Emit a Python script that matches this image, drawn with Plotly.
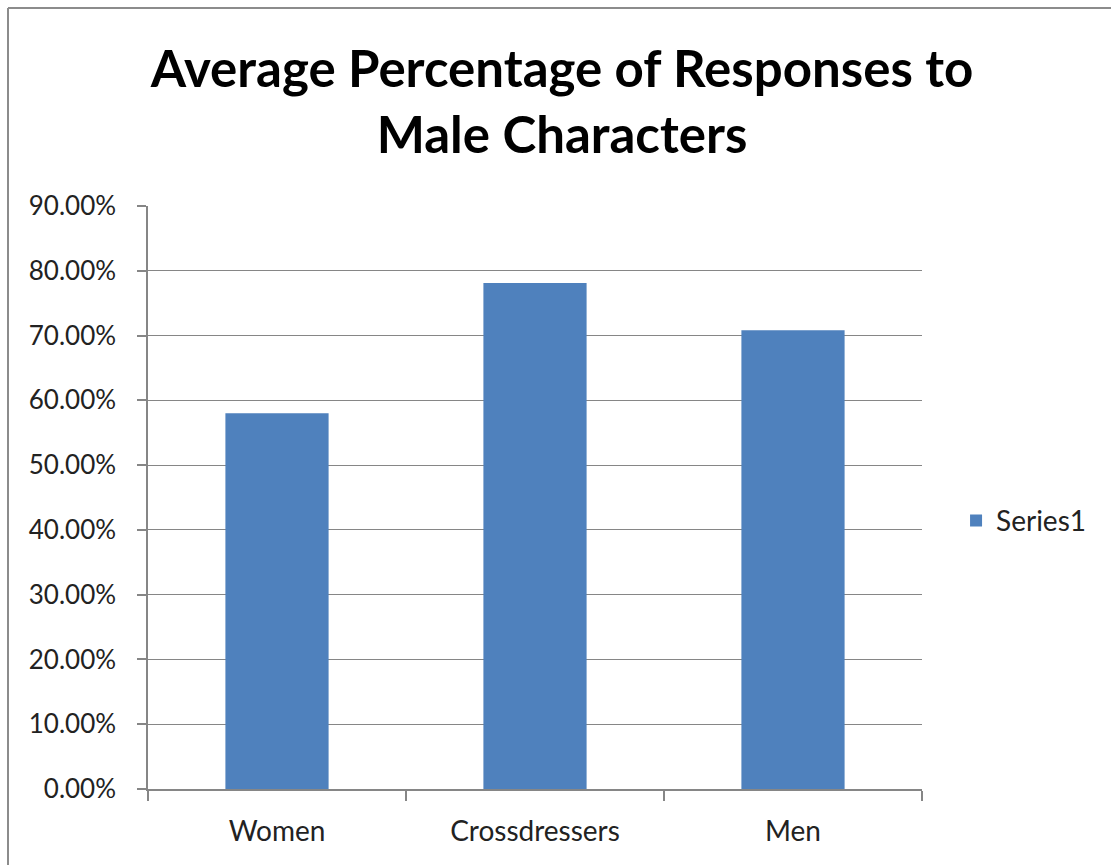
import plotly.graph_objects as go

categories = ["Women", "Crossdressers", "Men"]
values = [0.580, 0.781, 0.708]
series_name = "Series1"
tick_vals = [0, 0.1, 0.2, 0.3, 0.4, 0.5, 0.6, 0.7, 0.8, 0.9]
tick_text = ["0.00%", "10.00%", "20.00%", "30.00%", "40.00%", "50.00%",
             "60.00%", "70.00%", "80.00%", "90.00%"]

W, H = 1111, 865
L, R, T, B = 148, 189, 206, 76
pw, ph = W - L - R, H - T - B

fig = go.Figure()
fig.add_trace(go.Bar(x=categories, y=values, name=series_name,
                     marker=dict(color="#4F81BD", line=dict(width=0)),
                     showlegend=True))

fig.update_layout(
    width=W, height=H,
    margin=dict(l=L, r=R, t=T, b=B),
    paper_bgcolor="white", plot_bgcolor="white",
    bargap=0.6,
    font=dict(family="Lato, Open Sans, sans-serif", color="#222222", size=19),
    title=dict(text="Average Percentage of Responses to<br>Male Characters",
               x=562 / W, xanchor="center", y=1 - 87 / H, yanchor="middle",
               font=dict(family="Lato", size=51, color="black", weight="bold")),
    showlegend=True,
    legend=dict(x=1.044, y=0.46, xanchor="left", yanchor="middle",
                font=dict(size=28, color="#222222"), itemwidth=30),
    xaxis=dict(showline=True, linecolor="#868686", linewidth=1.5,
               ticks="outside", tickson="boundaries", ticklen=10,
               tickcolor="#868686", tickwidth=1.5, ticklabelstandoff=17,
               tickfont=dict(size=28, color="#222222"), showgrid=False),
    yaxis=dict(range=[0, 0.9], tickvals=tick_vals, ticktext=tick_text,
               showline=True, linecolor="#868686", linewidth=1.5,
               ticks="outside", ticklen=9, tickcolor="#868686", tickwidth=1.5,
               ticklabelstandoff=16,
               showgrid=True, gridcolor="#868686", gridwidth=1.3,
               tickfont=dict(size=26, color="#222222"), zeroline=False),
)

# Chart-area border (top and left edges visible in the reference)
x0 = (8 - L) / pw
x1 = (W + 5 - L) / pw
ytop = (H - B - 8) / ph
ybot = -(B + 10) / ph
fig.add_shape(type="line", xref="paper", yref="paper", x0=x0, x1=x1, y0=ytop, y1=ytop,
              line=dict(color="#8c8c8c", width=2))
fig.add_shape(type="line", xref="paper", yref="paper", x0=x0, x1=x0, y0=ybot, y1=ytop,
              line=dict(color="#8c8c8c", width=2))

fig.write_html("out.html")
